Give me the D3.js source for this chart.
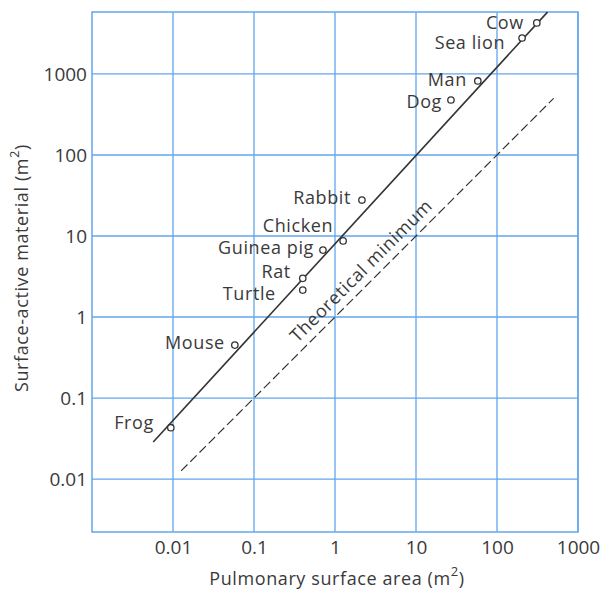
<!DOCTYPE html>
<html>
<head>
<meta charset="utf-8">
<script src="https://cdn.jsdelivr.net/npm/d3@7"></script>
<style>
  body { margin: 0; background: #fff; }
  text { font-family: "Open Sans", sans-serif; fill: #3a3a3a; }
</style>
</head>
<body>
<svg id="chart" width="602" height="591"></svg>
<script>
// ---- data ----
const animals  = ["Frog", "Mouse", "Turtle", "Rat", "Guinea pig", "Chicken", "Rabbit", "Dog", "Man", "Sea lion", "Cow"];
const area     = [0.0094, 0.058, 0.40, 0.40, 0.71, 1.26, 2.15, 27, 58, 204, 310];
const material = [0.043, 0.45, 2.15, 3.0, 6.7, 8.7, 27.8, 477, 820, 2780, 4270];
const fitX  = [0.0057, 420];
const fitY  = [0.0286, 5800];
const theoX = [0.0126, 500];
const theoY = [0.0126, 500];
const theoLabelX = 2.8;
const xTicks = [0.01, 0.1, 1, 10, 100, 1000];
const yTicks = [0.01, 0.1, 1, 10, 100, 1000];
const xTickLabels = ["0.01", "0.1", "1", "10", "100", "1000"];
const yTickLabels = ["0.01", "0.1", "1", "10", "100", "1000"];
// label placement (layout only): dx, dy from the point
const labelOffsets = [[-17, -5], [-10, -2], [-27, 4], [-12, -7], [-9, -2], [-10, -15], [-11, -2], [-9, 2], [-11, -1], [-17, 5], [-13, 0]];

// ---- layout ----
const svg = d3.select("#chart");
const L = 92, R = 578, T = 12, B = 532;
const x = d3.scaleLog().domain([0.001, 1000]).range([L, R]);
const y = d3.scaleLog().domain([0.00222, 5820]).range([B, T]);
const gridColor = "#62a6ee";
const ink = "#333";
const FS = "18px";

// grid
const g = svg.append("g");
g.selectAll("line.v").data(xTicks).join("line")
  .attr("x1", d => x(d)).attr("x2", d => x(d)).attr("y1", T).attr("y2", B)
  .attr("stroke", gridColor).attr("stroke-width", 1.3);
g.selectAll("line.h").data(yTicks).join("line")
  .attr("y1", d => y(d)).attr("y2", d => y(d)).attr("x1", L).attr("x2", R)
  .attr("stroke", gridColor).attr("stroke-width", 1.3);
g.append("rect").attr("x", L).attr("y", T).attr("width", R - L).attr("height", B - T)
  .attr("fill", "none").attr("stroke", gridColor).attr("stroke-width", 1.5);

// axes (labels only)
const xAxis = d3.axisBottom(x).tickValues(xTicks).tickFormat((d, i) => xTickLabels[i]).tickSize(0).tickPadding(9);
const yAxis = d3.axisLeft(y).tickValues(yTicks).tickFormat((d, i) => yTickLabels[i]).tickSize(0).tickPadding(5);
const gx = svg.append("g").attr("transform", `translate(0,${B})`).call(xAxis);
const gy = svg.append("g").attr("transform", `translate(${L},0)`).call(yAxis);
[gx, gy].forEach(a => {
  a.select(".domain").remove();
  a.selectAll("text").style("font-family", "Open Sans, sans-serif").style("font-size", "19px").attr("fill", "#3a3a3a");
});

// lines
const line = d3.line().x(d => x(d[0])).y(d => y(d[1]));
svg.append("path").datum(fitX.map((v, i) => [v, fitY[i]])).attr("d", line)
  .attr("stroke", ink).attr("stroke-width", 1.6).attr("fill", "none");
svg.append("path").datum(theoX.map((v, i) => [v, theoY[i]])).attr("d", line)
  .attr("stroke", ink).attr("stroke-width", 1.2).attr("fill", "none")
  .attr("stroke-dasharray", "9,4");

// theoretical label
const px = x(theoLabelX), py = y(theoLabelX);
const ang = Math.atan2(y(theoY[1]) - y(theoY[0]), x(theoX[1]) - x(theoX[0])) * 180 / Math.PI;
svg.append("text").attr("transform", `translate(${px},${py}) rotate(${ang})`)
  .attr("y", -8).attr("text-anchor", "middle")
  .style("font-size", FS).style("letter-spacing", "0.7px")
  .text("Theoretical minimum");

// points
svg.selectAll("circle.pt").data(animals).join("circle")
  .attr("cx", (d, i) => x(area[i])).attr("cy", (d, i) => y(material[i]))
  .attr("r", 3.2).attr("fill", "#fff").attr("stroke", ink).attr("stroke-width", 1.3);

svg.selectAll("text.lab").data(animals).join("text")
  .attr("x", (d, i) => x(area[i]) + labelOffsets[i][0])
  .attr("y", (d, i) => y(material[i]) + labelOffsets[i][1])
  .attr("dy", "0.35em").attr("text-anchor", "end")
  .style("font-size", FS).style("letter-spacing", "0.6px")
  .text(d => d);

// axis titles
const xt = svg.append("text").attr("x", (L + R) / 2 + 2).attr("y", 585).attr("text-anchor", "middle")
  .style("font-size", FS).style("letter-spacing", "0.6px");
xt.append("tspan").text("Pulmonary surface area (m");
xt.append("tspan").attr("baseline-shift", "super").style("font-size", "13px").text("2");
xt.append("tspan").text(")");

const yt = svg.append("text").attr("transform", `translate(28,268) rotate(-90)`).attr("text-anchor", "middle")
  .style("font-size", FS).style("letter-spacing", "0.6px");
yt.append("tspan").text("Surface-active material (m");
yt.append("tspan").attr("baseline-shift", "super").style("font-size", "13px").text("2");
yt.append("tspan").text(")");
</script>
</body>
</html>
